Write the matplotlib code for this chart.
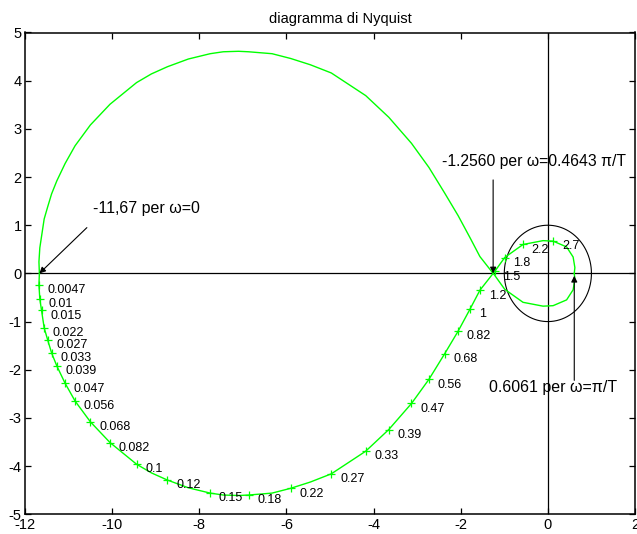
import matplotlib
matplotlib.use("Agg")
import matplotlib.pyplot as plt
import numpy as np

plt.rcParams['font.family'] = ['Liberation Sans', 'DejaVu Sans']

# Positive-frequency branch of the Nyquist curve
path_re = [-11.67, -11.68, -11.66, -11.62, -11.56, -11.48, -11.39, -11.27, -11.08,
           -10.85, -10.50, -10.05, -9.44, -9.10, -8.73, -8.25, -7.75, -7.45, -7.10,
           -6.87, -6.33, -5.90, -5.45, -4.97, -4.18, -3.65, -3.13, -2.73, -2.37,
           -2.06, -1.78, -1.56, -1.256, -1.22, -0.99, -0.57, -0.11, 0.12, 0.43,
           0.58, 0.62, 0.6061]
path_im = [0.00, -0.24, -0.53, -0.77, -1.13, -1.38, -1.65, -1.92, -2.28,
           -2.65, -3.08, -3.51, -3.96, -4.14, -4.29, -4.45, -4.56, -4.60, -4.61,
           -4.60, -4.56, -4.46, -4.33, -4.16, -3.69, -3.24, -2.70, -2.20, -1.67,
           -1.20, -0.73, -0.35, 0.00, 0.04, 0.33, 0.60, 0.68, 0.67, 0.55,
           0.34, 0.12, 0.00]

# Frequency marks along the curve
omega_labels = ['0.0047', '0.01', '0.015', '0.022', '0.027', '0.033', '0.039', '0.047',
                '0.056', '0.068', '0.082', '0.1', '0.12', '0.15', '0.18', '0.22', '0.27',
                '0.33', '0.39', '0.47', '0.56', '0.68', '0.82', '1', '1.2', '1.5', '1.8',
                '2.2', '2.7']
mark_re = [-11.68, -11.66, -11.62, -11.56, -11.48, -11.39, -11.27, -11.08, -10.85, -10.50,
           -10.05, -9.44, -8.73, -7.75, -6.87, -5.90, -4.97, -4.18, -3.65, -3.13, -2.73,
           -2.37, -2.06, -1.78, -1.56, -1.22, -0.99, -0.57, 0.12]
mark_im = [-0.24, -0.53, -0.77, -1.13, -1.38, -1.65, -1.92, -2.28, -2.65, -3.08,
           -3.51, -3.96, -4.29, -4.56, -4.60, -4.46, -4.16, -3.69, -3.24, -2.70, -2.20,
           -1.67, -1.20, -0.73, -0.35, 0.04, 0.33, 0.60, 0.67]

x_ticks = [-12, -10, -8, -6, -4, -2, 0, 2]
y_ticks = [-5, -4, -3, -2, -1, 0, 1, 2, 3, 4, 5]

fig = plt.figure(figsize=(6.37, 5.34), dpi=100)
ax = fig.add_axes([25/637, 1 - 514.3/534, 610/637, (514.3 - 32.5)/534])

green = '#00ff00'
re = np.array(path_re)
im = np.array(path_im)
ax.plot(re, im, color=green, lw=1.0, zorder=3)
ax.plot(re, -im, color=green, lw=1.0, zorder=3)
ax.plot(mark_re, mark_im, linestyle='none', marker='+', color=green,
        markersize=5.5, markeredgewidth=0.9, zorder=3)

for lab, xr, yi in zip(omega_labels, mark_re, mark_im):
    ax.annotate(lab, (xr, yi), xytext=(6.3, -3.8), textcoords='offset points',
                ha='left', va='center', fontsize=9, color='black')

# unit circle
t = np.linspace(0, 2 * np.pi, 300)
ax.plot(np.cos(t), np.sin(t), color='black', lw=0.8, zorder=2)

# axes lines
ax.axhline(0, color='black', lw=0.9, zorder=1)
ax.axvline(0, color='black', lw=0.9, zorder=1)

ap = dict(arrowstyle='-|>', color='black', lw=0.8, mutation_scale=9,
          shrinkA=0, shrinkB=0)
ax.annotate('', xy=(-11.67, 0.0), xytext=(-10.58, 0.95), arrowprops=ap)
ax.text(-10.43, 1.34, '-11,67 per \u03c9=0', fontsize=11.5, ha='left', va='center')

ax.annotate('', xy=(-1.256, 0.0), xytext=(-1.256, 1.94), arrowprops=ap)
ax.text(-2.42, 2.32, '-1.2560 per \u03c9=0.4643 \u03c0/T', fontsize=11.3, ha='left', va='center')

ax.annotate('', xy=(0.6061, -0.05), xytext=(0.6061, -2.22), arrowprops=ap)
ax.text(-1.35, -2.37, '0.6061 per \u03c9=\u03c0/T', fontsize=11.5, ha='left', va='center')

ax.set_xlim(-12, 2)
ax.set_ylim(-5, 5)
ax.set_xticks(x_ticks)
ax.set_yticks(y_ticks)
ax.set_xticklabels([str(v) for v in x_ticks])
ax.set_yticklabels([str(v) for v in y_ticks])
ax.tick_params(direction='in', length=4.5, width=0.9, top=True, right=True,
               labelsize=10.5, pad=2.5)
for s in ax.spines.values():
    s.set_linewidth(1.1)

fig.text(340/637, 1 - 22.7/534, 'diagramma di Nyquist', ha='center', va='baseline',
         fontsize=10.5)

fig.savefig('out.png', dpi=100)
